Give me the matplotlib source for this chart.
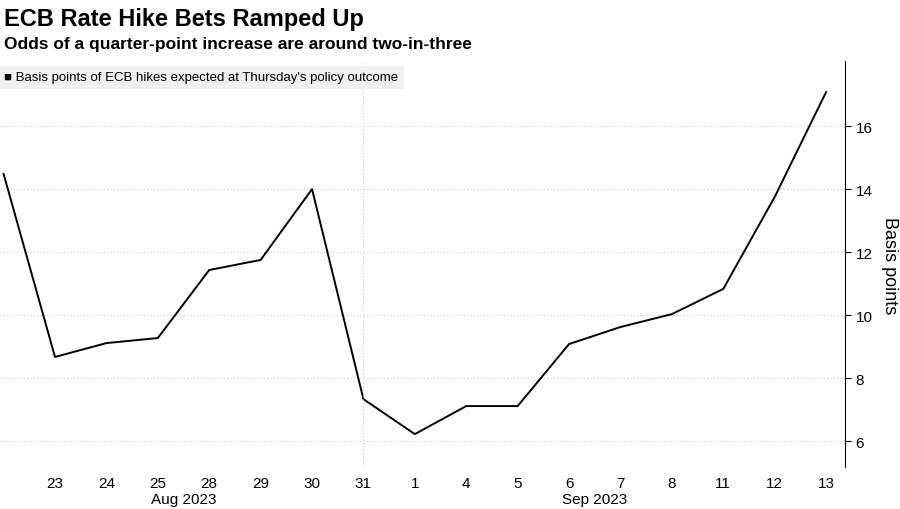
import matplotlib
matplotlib.use("Agg")
import matplotlib.pyplot as plt

days = ["22", "23", "24", "25", "28", "29", "30", "31", "1", "4", "5", "6", "7", "8", "11", "12", "13"]
values = [14.48, 8.67, 9.11, 9.27, 11.43, 11.75, 14.0, 7.33, 6.22, 7.11, 7.11, 9.08, 9.62, 10.03, 10.83, 13.75, 17.08]
yticks = [6, 8, 10, 12, 14, 16]

plt.rcParams['font.family'] = ['Liberation Sans', 'DejaVu Sans']
fig = plt.figure(figsize=(9, 5.1), dpi=100)
ax = fig.add_axes([0.0, 0.082, 0.939, 0.796])
x = list(range(-1, len(days) - 1))
ax.plot(x, values, color='black', lw=1.4)
ax.set_xlim(-1.07, 15.37)
ax.set_ylim(5.17, 18.06)
ax.set_xticks(x[1:])
ax.set_xticklabels(days[1:], fontsize=11)
ax.set_yticks(yticks)
ax.set_yticklabels([str(v) for v in yticks], fontsize=11)
ax.yaxis.tick_right()
ax.yaxis.set_label_position('right')
ax.set_ylabel('Basis points', fontsize=13, rotation=270, labelpad=18)
for s in ['top', 'left', 'bottom']:
    ax.spines[s].set_visible(False)
ax.tick_params(axis='x', length=0, pad=6)
ax.tick_params(axis='y', length=4, direction='out')
ax.grid(axis='y', color='#cccccc', ls=(0, (1, 2)), lw=0.8)
ax.axvline(6, color='#cccccc', ls=(0, (1, 2)), lw=0.8)
ax.text(2.5, -0.079, 'Aug 2023', transform=ax.get_xaxis_transform(), ha='center', va='center', fontsize=11)
ax.text(10.5, -0.079, 'Sep 2023', transform=ax.get_xaxis_transform(), ha='center', va='center', fontsize=11)
ax.text(0.005, 0.975, "\u25a0 Basis points of ECB hikes expected at Thursday's policy outcome",
        transform=ax.transAxes, fontsize=9.5, va='top', ha='left',
        bbox=dict(facecolor='#f0f0f0', edgecolor='none', pad=4))
fig.text(0.005, 0.985, 'ECB Rate Hike Bets Ramped Up', fontsize=17, fontweight='bold', va='top')
fig.text(0.005, 0.928, 'Odds of a quarter-point increase are around two-in-three', fontsize=12.5, fontweight='bold', va='top')
fig.savefig('out.png', dpi=100)
